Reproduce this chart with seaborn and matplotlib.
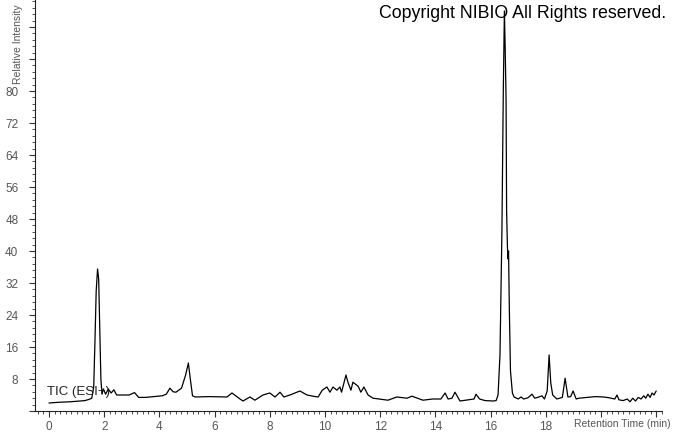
import matplotlib
matplotlib.use("Agg")
import pandas as pd
import seaborn as sns
from matplotlib import pyplot as plt
from matplotlib.ticker import MultipleLocator

# retention time (min) and relative intensity (%)
rt_min = [
    0.00, 0.40, 0.76, 1.10, 1.30, 1.45, 1.55, 1.62, 1.66, 1.71, 1.76, 1.80,
    1.84, 1.88, 1.92, 1.97, 2.05, 2.15, 2.25, 2.35, 2.45, 2.60, 2.90, 3.10,
    3.25, 3.50, 3.80, 4.10, 4.25, 4.38, 4.50, 4.60, 4.80, 4.95, 5.05, 5.12,
    5.20, 5.30, 5.80, 6.45, 6.63, 6.92, 7.03, 7.28, 7.46, 7.75, 8.00, 8.19,
    8.37, 8.51, 8.73, 9.09, 9.35, 9.57, 9.75, 9.90, 10.07, 10.18, 10.29, 10.43,
    10.54, 10.60, 10.76, 10.83, 10.94, 11.01, 11.20, 11.30, 11.41, 11.56, 11.74, 12.28,
    12.60, 12.97, 13.15, 13.55, 13.90, 14.20, 14.35, 14.46, 14.60, 14.71, 14.89, 15.20,
    15.40, 15.47, 15.60, 15.80, 16.10, 16.20, 16.27, 16.34, 16.41, 16.46, 16.50, 16.53,
    16.56, 16.58, 16.61, 16.63, 16.65, 16.68, 16.72, 16.79, 16.85, 17.00, 17.10, 17.20,
    17.35, 17.50, 17.60, 17.75, 17.86, 17.95, 18.05, 18.12, 18.18, 18.25, 18.40, 18.60,
    18.70, 18.80, 18.90, 18.99, 19.10, 19.20, 19.50, 19.80, 20.10, 20.30, 20.50, 20.58,
    20.65, 20.80, 20.95, 21.05, 21.15, 21.25, 21.35, 21.45, 21.55, 21.62, 21.70, 21.78,
    21.85, 21.92, 22.00,
]
rel_int = [
    2.0, 2.2, 2.3, 2.5, 2.6, 2.9, 3.2, 6.0, 16.0, 30.0, 35.5, 33.0,
    20.0, 8.0, 4.2, 5.5, 4.2, 5.5, 4.5, 5.3, 4.0, 4.0, 4.0, 4.6,
    3.4, 3.4, 3.6, 3.8, 4.2, 5.7, 4.8, 4.7, 5.7, 9.0, 12.0, 8.0,
    3.8, 3.5, 3.6, 3.5, 4.5, 3.0, 2.5, 3.5, 2.7, 4.0, 4.5, 3.5,
    4.7, 3.5, 4.0, 5.0, 4.0, 3.7, 3.5, 5.2, 6.0, 4.7, 6.0, 5.2,
    6.0, 4.7, 9.0, 7.2, 5.2, 7.2, 6.2, 4.7, 6.0, 4.0, 3.2, 2.7,
    3.5, 3.2, 3.7, 2.7, 3.0, 3.0, 4.5, 3.0, 3.2, 4.7, 2.5, 2.8,
    3.0, 4.2, 3.0, 2.6, 2.5, 2.6, 4.0, 14.0, 45.0, 80.0, 100.0, 90.0,
    78.0, 50.0, 41.0, 38.0, 40.0, 25.0, 10.0, 4.5, 3.5, 3.0, 3.5, 3.0,
    3.3, 4.2, 3.2, 3.5, 3.8, 3.0, 5.0, 14.0, 7.0, 4.0, 3.0, 3.4,
    8.2, 3.5, 3.6, 5.0, 3.0, 3.2, 3.4, 3.6, 3.5, 3.3, 3.0, 4.0,
    2.8, 2.6, 3.0, 2.3, 3.2, 2.5, 3.4, 3.0, 3.8, 3.2, 4.2, 3.4,
    4.5, 4.0, 5.0,
]

x_ticks = [0, 2, 4, 6, 8, 10, 12, 14, 16, 18, 20, 22]
x_tick_labels = ["0", "2", "4", "6", "8", "10", "12", "14", "16", "18", "", ""]
y_ticks = [0, 8, 16, 24, 32, 40, 48, 56, 64, 72, 80, 88, 96]
y_tick_labels = ["", "8", "16", "24", "32", "40", "48", "56", "64", "72", "80", "", ""]

df = pd.DataFrame({"rt": rt_min, "intensity": rel_int})

sns.set_style("ticks")
plt.rcParams["font.family"] = ["Liberation Sans", "DejaVu Sans"]

fig = plt.figure(figsize=(6.73, 4.33), dpi=100)
ax = fig.add_axes([35 / 673, 22 / 433, 627 / 673, 411 / 433])

sns.lineplot(data=df, x="rt", y="intensity", sort=False, color="black",
             linewidth=0.9, ax=ax)

ax.set_xlim(-0.507, 22.21)
ax.set_ylim(0, 102.75)
ax.set_xticks(x_ticks)
ax.set_xticklabels(x_tick_labels)
ax.set_yticks(y_ticks)
ax.set_yticklabels(y_tick_labels)
ax.xaxis.set_minor_locator(MultipleLocator(0.2))
ax.yaxis.set_minor_locator(MultipleLocator(1.6))
ax.tick_params(axis="both", which="major", length=4, width=0.8, color="#333333",
               labelsize=8.5, labelcolor="#555555")
ax.tick_params(axis="both", which="minor", length=2, width=0.6, color="#333333")
ax.tick_params(axis="y", which="major", pad=8)
ax.tick_params(axis="x", which="major", pad=3)
ax.set_xlabel("")
ax.set_ylabel("")
sns.despine(ax=ax)
for s in ["left", "bottom"]:
    ax.spines[s].set_color("#222222")
    ax.spines[s].set_linewidth(0.8)

ax.text(-0.07, 4.75, "TIC (ESI+)", fontsize=9.5, color="#222222",
        ha="left", va="center")

fig.text(671 / 673, 1 - 424 / 433, "Retention Time (min)", fontsize=7.5,
         color="#555555", ha="right", va="center")
fig.text(18 / 673, 1 - 84 / 433, "Relative Intensity", fontsize=7.5,
         color="#555555", rotation=90, ha="center", va="bottom")
fig.text(666 / 673, 1 - 14 / 433, "Copyright NIBIO All Rights reserved.",
         fontsize=12.8, color="black", ha="right", va="center")

fig.savefig("out.png", dpi=100)
